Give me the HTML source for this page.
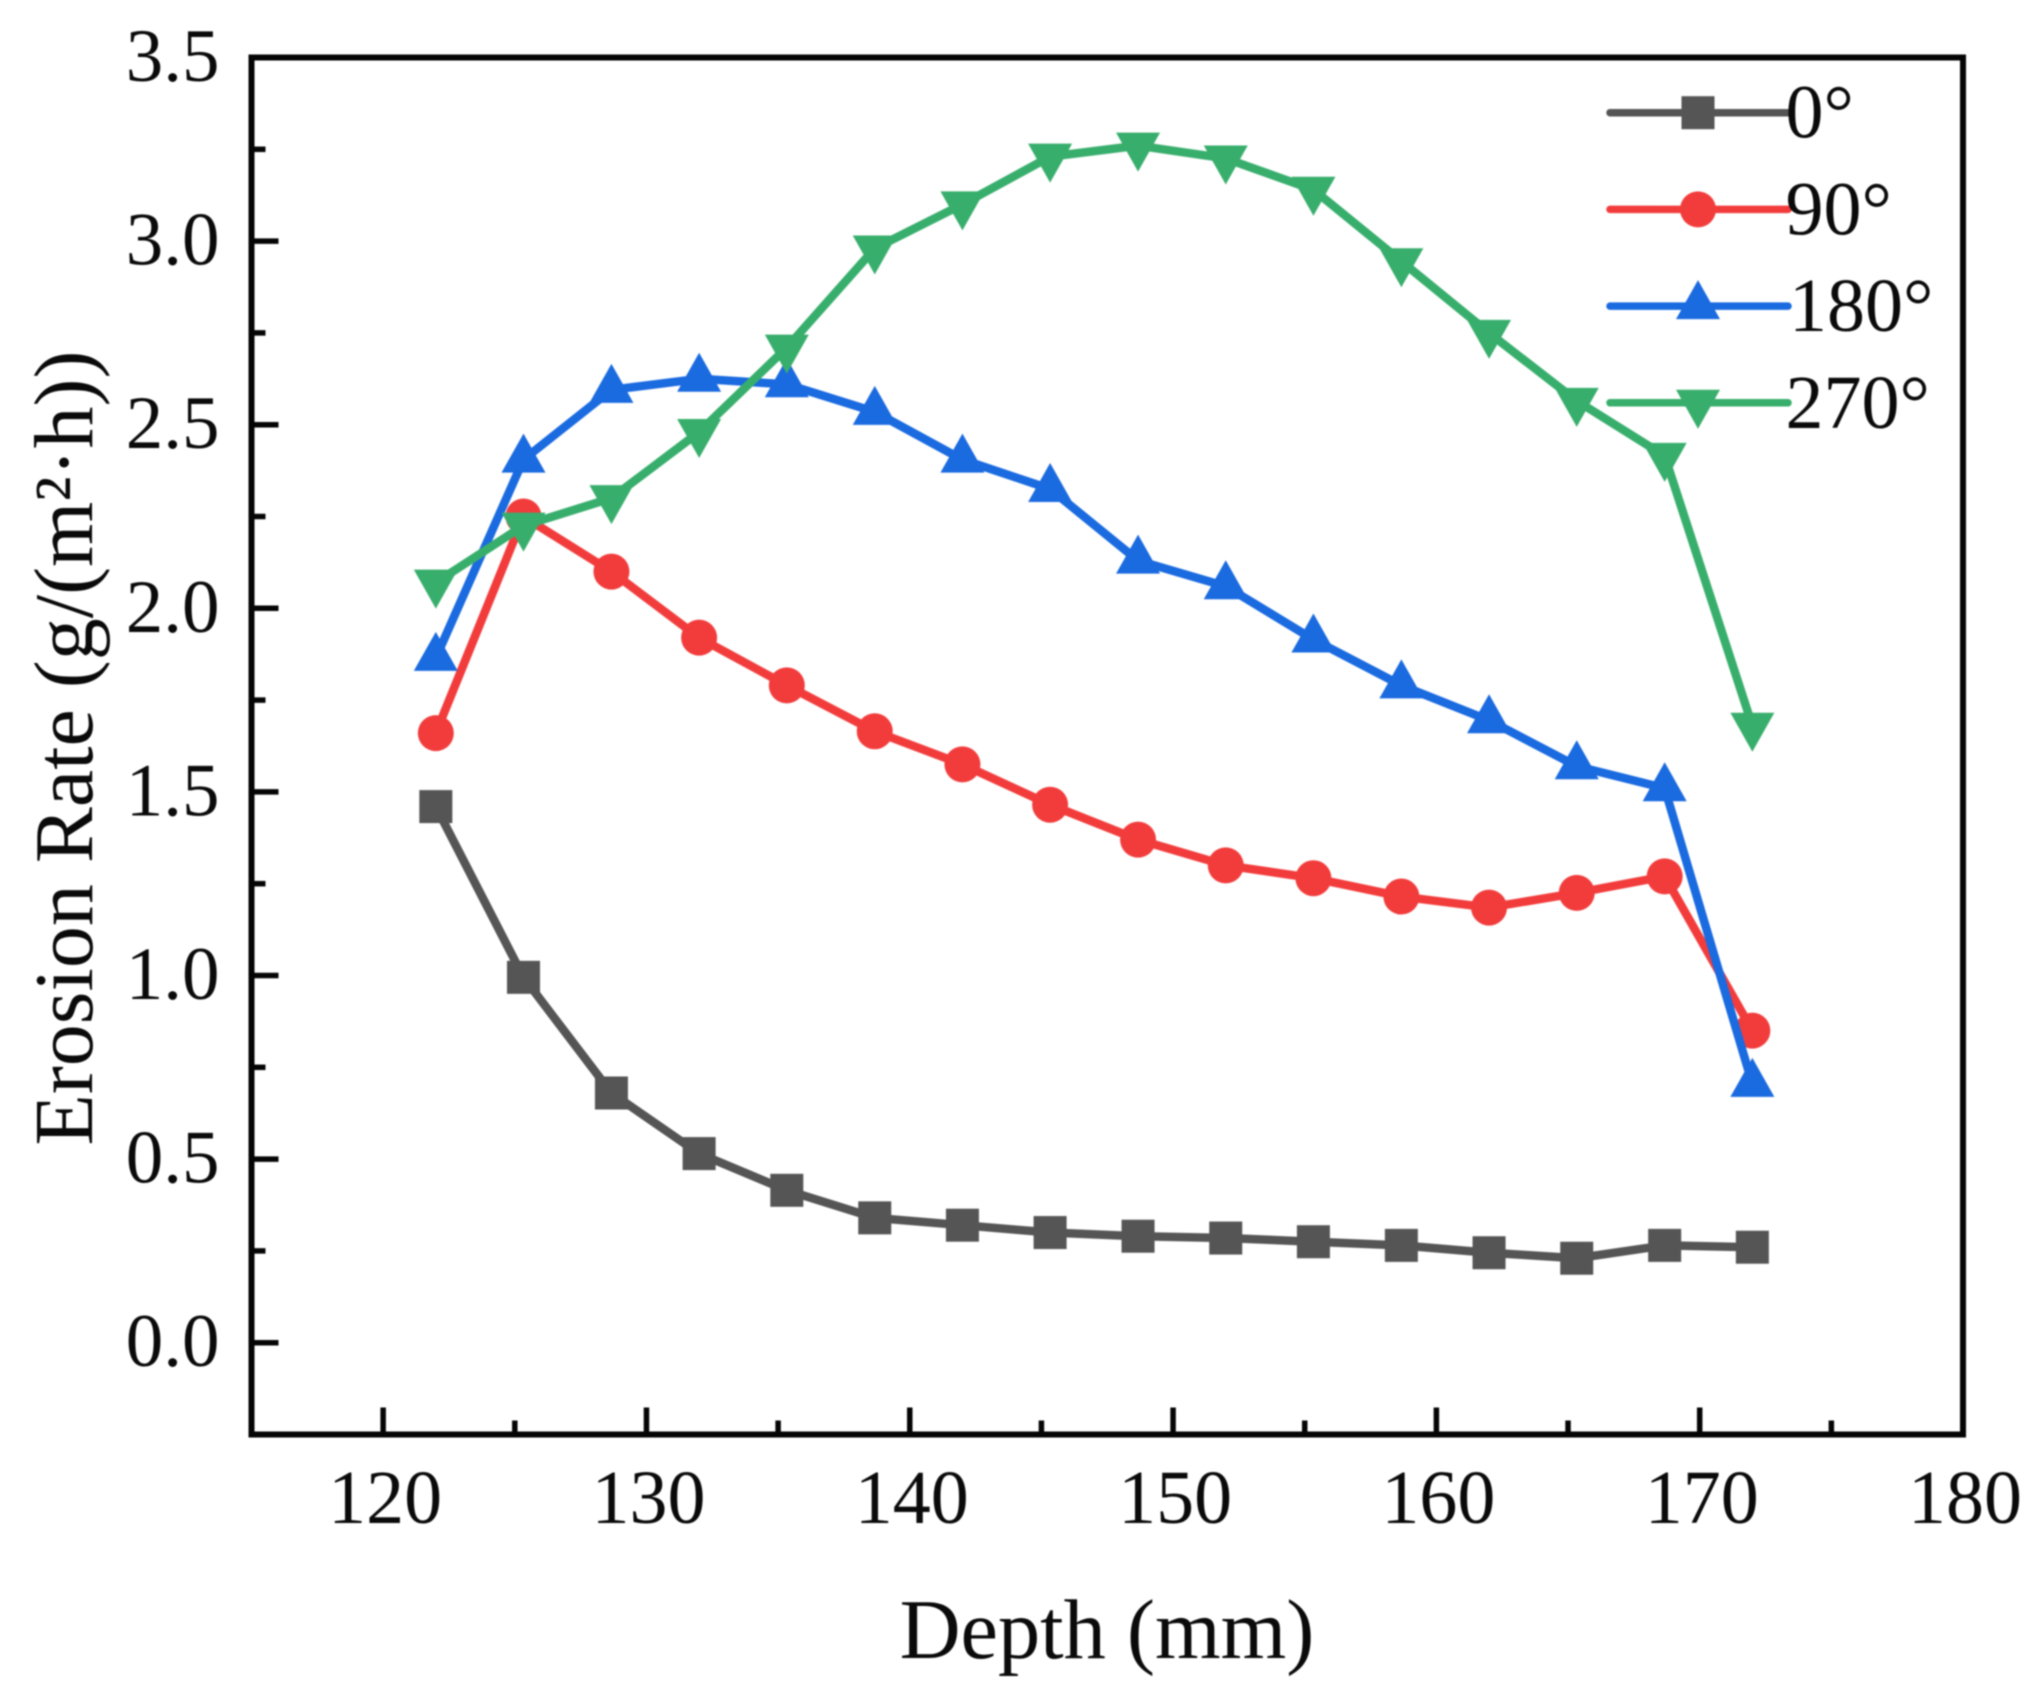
<!DOCTYPE html>
<html lang="en">
<head>
<meta charset="utf-8">
<title>Erosion Rate vs Depth</title>
<style>
html,body{margin:0;padding:0;background:#fff;width:2040px;height:1702px;overflow:hidden}
svg{display:block;filter:blur(0.7px)}
text{font-family:"Liberation Serif","Times New Roman",serif;fill:#0a0a0a}
</style>
</head>
<body>
<svg id="chart" xmlns="http://www.w3.org/2000/svg" width="2040" height="1702" viewBox="0 0 2040 1702">
<rect x="0" y="0" width="2040" height="1702" fill="#fff"/>
<g id="traces"></g>
<g id="axes"></g>
<g id="legend"></g>
<text x="1107" y="1658" font-size="84.4" text-anchor="middle">Depth (mm)</text>
<text transform="translate(92 748) rotate(-90)" font-size="84" text-anchor="middle">Erosion Rate (g/(m²·h))</text>
</svg>
<script>
const depths = [122, 125.33, 128.67, 132, 135.33, 138.67, 142, 145.33, 148.67, 152, 155.33, 158.67, 162, 165.33, 168.67, 172];
const values0 = [1.46, 0.995, 0.68, 0.515, 0.415, 0.34, 0.32, 0.30, 0.29, 0.285, 0.275, 0.265, 0.245, 0.23, 0.265, 0.26];
const values90 = [1.66, 2.25, 2.10, 1.92, 1.79, 1.665, 1.575, 1.465, 1.37, 1.30, 1.265, 1.215, 1.185, 1.225, 1.27, 0.85];
const values180 = [1.865, 2.405, 2.595, 2.625, 2.61, 2.535, 2.405, 2.325, 2.13, 2.06, 1.915, 1.79, 1.695, 1.57, 1.51, 0.705];
const values270 = [2.07, 2.225, 2.30, 2.48, 2.71, 2.98, 3.10, 3.23, 3.26, 3.225, 3.14, 2.945, 2.75, 2.565, 2.415, 1.68];
const seriesNames = ['0°', '90°', '180°', '270°'];
const xMajorTicks = [120, 130, 140, 150, 160, 170, 180];
const xMinorTicks = [125, 135, 145, 155, 165, 175];
const yMajorTicks = ['0.0', '0.5', '1.0', '1.5', '2.0', '2.5', '3.0', '3.5'];
const yMinorTicks = [0.25, 0.75, 1.25, 1.75, 2.25, 2.75, 3.25];

const NS = 'http://www.w3.org/2000/svg';
const plotLeft = 251.5, plotRight = 1963, plotTop = 57.5, plotBottom = 1434.5;
const xMin = 115, xMax = 180, yMin = -0.25, yMax = 3.5;
function xScale(v) { return plotLeft + (v - xMin) / (xMax - xMin) * (plotRight - plotLeft); }
function yScale(v) { return plotBottom - (v - yMin) / (yMax - yMin) * (plotBottom - plotTop); }
function make(tag, attrs, parent) {
  const el = document.createElementNS(NS, tag);
  for (const k in attrs) el.setAttribute(k, attrs[k]);
  parent.appendChild(el);
  return el;
}
function marker(kind, cx, cy, color, parent) {
  if (kind === 'square') {
    return make('rect', { x: cx - 16.5, y: cy - 16.5, width: 33, height: 33, fill: color }, parent);
  }
  if (kind === 'circle') {
    return make('circle', { cx: cx, cy: cy, r: 18, fill: color }, parent);
  }
  const d = kind === 'up' ? 1 : -1;
  const pts = [[cx, cy - d * 26], [cx - 22, cy + d * 13], [cx + 22, cy + d * 13]];
  return make('polygon', { points: pts.map(p => p.join(',')).join(' '), fill: color }, parent);
}

const styles = [
  { kind: 'square', color: '#555555', values: values0, key: '0' },
  { kind: 'circle', color: '#f23c3c', values: values90, key: '90' },
  { kind: 'up', color: '#1a6ae0', values: values180, key: '180' },
  { kind: 'down', color: '#38ae6c', values: values270, key: '270' }
];

const traces = document.getElementById('traces');
styles.forEach(function (s) {
  const g = make('g', {}, traces);
  
  
  const line = make('polyline', {
    points: s.values.map((v, i) => xScale(depths[i]) + ',' + yScale(v)).join(' '),
    fill: 'none', stroke: s.color, 'stroke-width': 8.5, 'stroke-linejoin': 'round'
  }, g);
  
  
  s.values.forEach(function (v, i) {
    const m = marker(s.kind, xScale(depths[i]), yScale(v), s.color, g);
    
    
  });
});

const axes = document.getElementById('axes');
const frame = make('rect', {
  x: plotLeft, y: plotTop, width: plotRight - plotLeft, height: plotBottom - plotTop,
  fill: 'none', stroke: '#050505', 'stroke-width': 6
}, axes);



xMajorTicks.forEach(function (t) {
  const x = xScale(t);
  if (t !== xMax) {
    const tick = make('line', { x1: x, x2: x, y1: plotBottom, y2: plotBottom - 27, stroke: '#050505', 'stroke-width': 5.5 }, axes);
    
    
  }
  const label = make('text', { x: x + 2, y: 1523, 'font-size': 76, 'text-anchor': 'middle' }, axes);
  label.textContent = t;
  
  
});
xMinorTicks.forEach(function (t) {
  const tick = make('line', { x1: xScale(t), x2: xScale(t), y1: plotBottom, y2: plotBottom - 14, stroke: '#050505', 'stroke-width': 5.5 }, axes);
  
  
});
yMajorTicks.forEach(function (t) {
  const y = yScale(parseFloat(t));
  if (parseFloat(t) !== yMax) {
    const tick = make('line', { x1: plotLeft, x2: plotLeft + 27, y1: y, y2: y, stroke: '#050505', 'stroke-width': 5.5 }, axes);
    
    
  }
  const label = make('text', { x: 219.5, y: y + 23.5, 'font-size': 75, 'text-anchor': 'end' }, axes);
  label.textContent = t;
  
  
});
yMinorTicks.forEach(function (t) {
  const tick = make('line', { x1: plotLeft, x2: plotLeft + 14, y1: yScale(t), y2: yScale(t), stroke: '#050505', 'stroke-width': 5.5 }, axes);
  
  
});

const legend = document.getElementById('legend');
styles.forEach(function (s, i) {
  const ly = 112.7 + i * 96.7;
  const g = make('g', {}, legend);
  
  
  make('line', { x1: 1610, x2: 1788, y1: ly, y2: ly, stroke: s.color, 'stroke-width': 7.5, 'stroke-linecap': 'round' }, g);
  marker(s.kind, 1698, ly, s.color, g);
  const label = make('text', { x: i === 2 ? 1789 : 1785.5, y: ly + 25, 'font-size': 76 }, g);
  label.textContent = seriesNames[i];
  
  
});
</script>
</body>
</html>
